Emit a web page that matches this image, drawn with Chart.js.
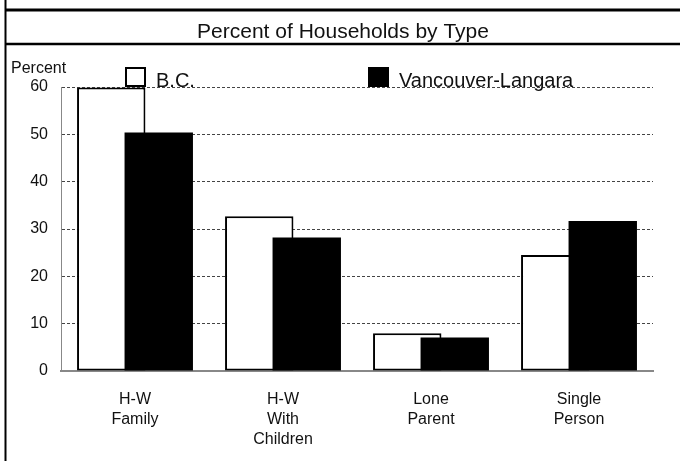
<!DOCTYPE html>
<html>
<head>
<meta charset="utf-8">
<script src="https://cdn.jsdelivr.net/npm/chart.js@4/dist/chart.umd.min.js"></script>
<style>
  html, body { margin: 0; padding: 0; background: #fff; }
  #wrap { width: 680px; height: 461px; }
</style>
</head>
<body>
<div id="wrap"><canvas id="c" width="680" height="461"></canvas></div>
<script>
// ---- Data ----
const categories = [["H-W", "Family"], ["H-W", "With", "Children"], ["Lone", "Parent"], ["Single", "Person"]];
const seriesNames = ["B.C.", "Vancouver-Langara"];
const bcValues = [59.9, 32.7, 8.0, 24.5];
const vlValues = [50.4, 28.2, 7.1, 31.7];
const yTicks = [0, 10, 20, 30, 40, 50, 60];

const FONT = "'Liberation Sans', Arial, sans-serif";

// frame, title, "Percent" label and legend drawn on the canvas
const decor = {
  id: "decor",
  beforeDraw(chart) {
    const ctx = chart.ctx;
    ctx.save();
    ctx.fillStyle = "#fff";
    ctx.fillRect(0, 0, chart.width, chart.height);
    ctx.strokeStyle = "#000";
    ctx.lineWidth = 2;
    ctx.beginPath();
    ctx.moveTo(5.5, 0); ctx.lineTo(5.5, chart.height);
    ctx.stroke();
    ctx.lineWidth = 3;
    ctx.beginPath();
    ctx.moveTo(5, 10); ctx.lineTo(chart.width, 10);
    ctx.stroke();
    ctx.lineWidth = 2.5;
    ctx.beginPath();
    ctx.moveTo(5, 44); ctx.lineTo(chart.width, 44);
    ctx.stroke();
    ctx.fillStyle = "#111";
    ctx.font = "21px " + FONT;
    ctx.textAlign = "center";
    ctx.textBaseline = "alphabetic";
    ctx.fillText("Percent of Households by Type", 343, 38);
    ctx.font = "16px " + FONT;
    ctx.textAlign = "left";
    ctx.fillText("Percent", 11, 73);
    ctx.restore();
  },
  // Chart.js paints dataset 0 last (on top); the black series must sit over the white one
  beforeDatasetDraw(chart, args) {
    if (args.index === 1 && !this._late) return false;
  },
  afterDatasetsDraw(chart) {
    this._late = true;
    chart.getDatasetMeta(1).controller.draw();
    this._late = false;
  },
  afterDraw(chart) {
    const ctx = chart.ctx;
    const xs = [125, 368];
    ctx.save();
    ctx.font = "20px " + FONT;
    ctx.textBaseline = "alphabetic";
    chart.data.datasets.forEach((ds, i) => {
      const x = xs[i];
      ctx.fillStyle = ds.backgroundColor;
      ctx.fillRect(x, 67, 21, 20);
      ctx.strokeStyle = "#000";
      ctx.lineWidth = 2;
      ctx.strokeRect(x + 1, 68, 19, 18);
      ctx.fillStyle = "#111";
      ctx.fillText(ds.label, x + 31, 87);
    });
    ctx.restore();
  }
};

new Chart(document.getElementById("c"), {
  type: "bar",
  data: {
    labels: categories,
    datasets: [
      {
        label: seriesNames[0],
        data: bcValues,
        backgroundColor: "#ffffff",
        borderColor: "#000000",
        borderWidth: 2,
        borderSkipped: false,
      },
      {
        label: seriesNames[1],
        data: vlValues,
        backgroundColor: "#000000",
        borderWidth: 0,
      }
    ]
  },
  options: {
    responsive: false,
    animation: false,
    categoryPercentage: 0.642,
    barPercentage: 1.44,
    layout: { padding: { top: 87, right: 27, bottom: 0, left: 0 } },
    plugins: {
      legend: { display: false },
      title: { display: false },
      tooltip: { enabled: false }
    },
    scales: {
      x: {
        grid: { display: false },
        border: { display: true, color: "#888", width: 2 },
        ticks: {
          color: "#111",
          font: { family: FONT, size: 16, lineHeight: 1.25 },
          padding: 11,
          maxRotation: 0,
          autoSkip: false
        },
        afterFit: s => { s.height = 90; }
      },
      y: {
        min: 0,
        max: 60,
        afterBuildTicks: s => { s.ticks = yTicks.map(v => ({ value: v })); },
        grid: {
          drawTicks: false,
          lineWidth: 1,
          color: c => c.tick && c.tick.value === 0 ? "rgba(0,0,0,0)" : "#444"
        },
        border: { display: true, color: "#888", width: 1, dash: [3, 2] },
        ticks: {
          color: "#111",
          font: { family: FONT, size: 16 },
          padding: 13
        },
        afterFit: s => { s.width = 61; }
      }
    }
  },
  plugins: [decor]
});
</script>
</body>
</html>
